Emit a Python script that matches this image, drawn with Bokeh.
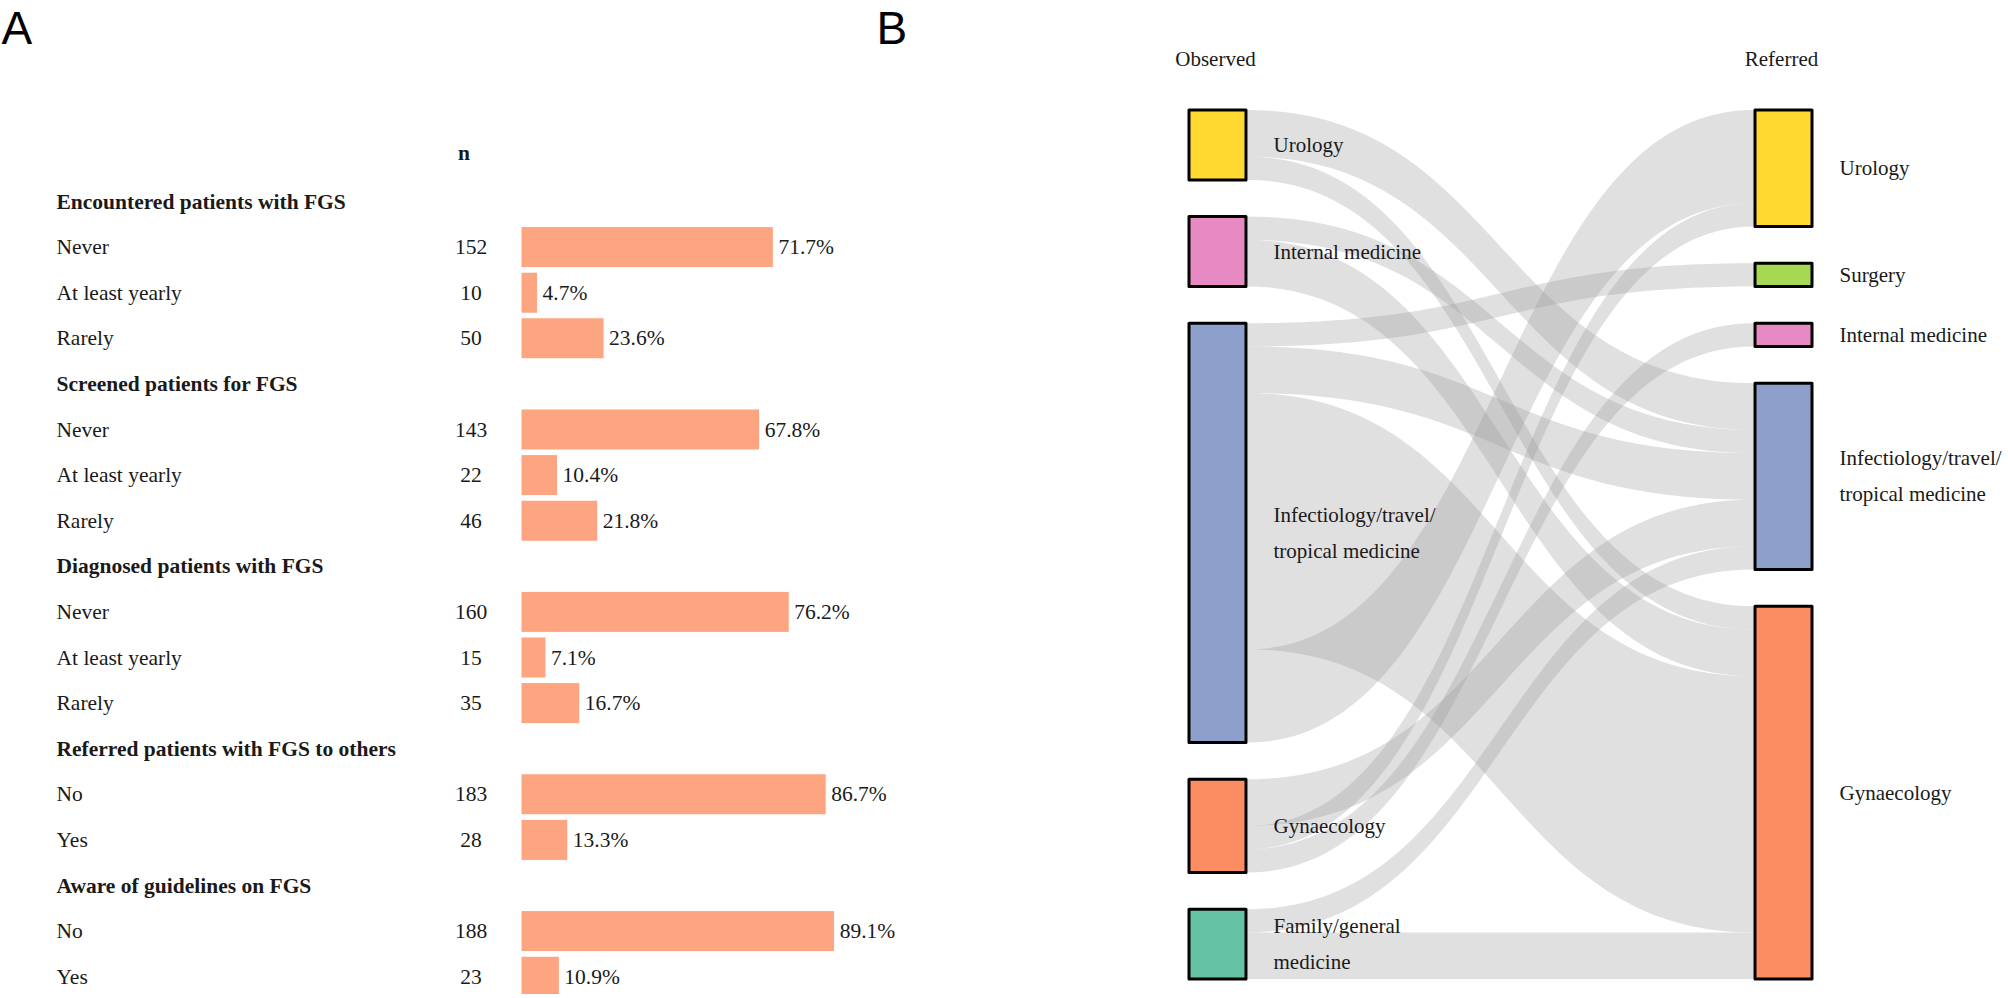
import numpy as np
from bokeh.plotting import figure
from bokeh.layouts import row
from bokeh.models import Range1d
from bokeh.core.properties import value
from bokeh.embed import file_html
from bokeh.resources import INLINE

# ---------------- Panel A data ----------------
groups = ["Encountered patients with FGS", "Screened patients for FGS",
          "Diagnosed patients with FGS", "Referred patients with FGS to others",
          "Aware of guidelines on FGS"]
answers = [["Never", "At least yearly", "Rarely"],
           ["Never", "At least yearly", "Rarely"],
           ["Never", "At least yearly", "Rarely"],
           ["No", "Yes"],
           ["No", "Yes"]]
counts = [[152, 10, 50], [143, 22, 46], [160, 15, 35], [183, 28], [188, 23]]
percents = [[71.7, 4.7, 23.6], [67.8, 10.4, 21.8], [76.2, 7.1, 16.7], [86.7, 13.3], [89.1, 10.9]]

# ---------------- Panel B data ----------------
observed_nodes = ["Urology", "Internal medicine", "Infectiology/travel/\ntropical medicine",
                  "Gynaecology", "Family/general\nmedicine"]
referred_nodes = ["Urology", "Surgery", "Internal medicine",
                  "Infectiology/travel/\ntropical medicine", "Gynaecology"]
INF = "Infectiology/travel/\ntropical medicine"
flow_from = ["Urology", "Urology", "Internal medicine", "Internal medicine",
             INF, INF, INF, INF,
             "Gynaecology", "Gynaecology", "Gynaecology",
             "Family/general\nmedicine", "Family/general\nmedicine"]
flow_to = [INF, "Gynaecology", INF, "Gynaecology",
           "Surgery", INF, "Gynaecology", "Urology",
           INF, "Urology", "Internal medicine",
           INF, "Gynaecology"]
flow_n = [2, 1, 1, 2, 1, 2, 11, 4, 2, 1, 1, 1, 2]
node_colors = {"Urology": "#FFD92F", "Surgery": "#A6D854", "Internal medicine": "#E78AC3",
               INF: "#8DA0CB", "Gynaecology": "#FC8D62", "Family/general\nmedicine": "#66C2A5"}

SERIF = value("Liberation Serif, Times New Roman, DejaVu Serif, serif")
FS_A = "21.5px"
FS_B = "21px"
TXT = "#1a1a1a"

W1, W2, H = 1000, 1004, 994

# ---------------- Panel A ----------------
PX_PER_PCT = 3.52
X0 = 520.5
ROW0, ROW_H = 201.0, 45.6


def lx(px):
    return (px - X0) / PX_PER_PCT


def ly(py):
    return (py - ROW0) / ROW_H


p1 = figure(width=W1, height=H, x_range=Range1d(lx(0), lx(W1)), y_range=Range1d(ly(H), ly(0)),
            output_backend="svg", toolbar_location=None, min_border=0,
            x_axis_location=None, y_axis_location=None)
p1.grid.visible = False
p1.outline_line_color = None

hdr_y, hdr_t = [], []
it_y, it_t, it_n, it_p = [], [], [], []
r = 0
for g, ans, cn, pc in zip(groups, answers, counts, percents):
    hdr_y.append(r)
    hdr_t.append(g)
    r += 1
    for a, c, v in zip(ans, cn, pc):
        it_y.append(r)
        it_t.append(a)
        it_n.append(str(c))
        it_p.append(v)
        r += 1

p1.hbar(y=it_y, left=0, right=it_p, height=0.9, fill_color="#FC8D62", fill_alpha=0.8,
        line_color="white", line_width=1)
p1.text(x=[lx(56)] * len(hdr_y), y=hdr_y, text=hdr_t, text_font=SERIF, text_font_size=FS_A,
        text_font_style="bold", text_baseline="middle", text_color=TXT)
p1.text(x=[lx(56)] * len(it_y), y=it_y, text=it_t, text_font=SERIF, text_font_size=FS_A,
        text_baseline="middle", text_color=TXT)
p1.text(x=[lx(470.5)] * len(it_y), y=it_y, text=it_n, text_font=SERIF, text_font_size=FS_A,
        text_baseline="middle", text_align="center", text_color=TXT)
p1.text(x=[v + 5 / PX_PER_PCT for v in it_p], y=it_y, text=[f"{v}%" for v in it_p],
        text_font=SERIF, text_font_size=FS_A, text_baseline="middle", text_color=TXT)
p1.text(x=[lx(463.5)], y=[-1.06], text=["n"], text_font=SERIF, text_font_size=FS_A,
        text_font_style="bold", text_baseline="middle", text_align="center", text_color=TXT)
p1.text(x=[lx(1), lx(876)], y=[ly(27), ly(27)], text=["A", "B"],
        text_font=value("Liberation Sans, Arial, sans-serif"),
        text_font_size="46px", text_baseline="middle", text_color="black")

# ---------------- Panel B ----------------
UNIT, TOP, GAP = 23.3, 109.5, 1.575


def ry(py):
    return (py - TOP) / UNIT


p2 = figure(width=W2, height=H, x_range=Range1d(0, W2), y_range=Range1d(ry(H), ry(0)),
            output_backend="svg", toolbar_location=None, min_border=0,
            x_axis_location=None, y_axis_location=None)
p2.grid.visible = False
p2.outline_line_color = None

out_tot = {n: 0 for n in observed_nodes}
in_tot = {n: 0 for n in referred_nodes}
for a, b, v in zip(flow_from, flow_to, flow_n):
    out_tot[a] += v
    in_tot[b] += v

left_top, right_top = {}, {}
y = 0.0
for n in observed_nodes:
    left_top[n] = y
    y += out_tot[n] + GAP
y = 0.0
for n in referred_nodes:
    right_top[n] = y
    y += in_tot[n] + GAP

LX0, LX1 = 188.5, 245.5
RX0, RX1 = 754.5, 811.5
FX0, FX1 = 247.0, 753.0

# outgoing stacking (list order), incoming stacking (source order)
lcur = dict(left_top)
starts = []
for a, v in zip(flow_from, flow_n):
    starts.append(lcur[a])
    lcur[a] += v
order = sorted(range(len(flow_n)), key=lambda i: (observed_nodes.index(flow_from[i]), i))
rcur = dict(right_top)
ends = [0.0] * len(flow_n)
for i in order:
    ends[i] = rcur[flow_to[i]]
    rcur[flow_to[i]] += flow_n[i]

s = np.linspace(0, 1, 80)
xm = (FX0 + FX1) / 2
bx = (1 - s) ** 3 * FX0 + 3 * (1 - s) ** 2 * s * xm + 3 * (1 - s) * s ** 2 * xm + s ** 3 * FX1
by = 3 * (1 - s) * s ** 2 + s ** 3
xs, ys = [], []
for i in range(len(flow_n)):
    y0, y1, v = starts[i], ends[i], flow_n[i]
    top = y0 + (y1 - y0) * by
    bot = (y0 + v) + (y1 - y0) * by
    xs.append(list(bx) + list(bx[::-1]))
    ys.append(list(top) + list(bot[::-1]))
p2.patches(xs, ys, fill_color="#999999", fill_alpha=0.3, line_color=None)

p2.quad(left=[LX0] * len(observed_nodes), right=[LX1] * len(observed_nodes),
        top=[left_top[n] for n in observed_nodes],
        bottom=[left_top[n] + out_tot[n] for n in observed_nodes],
        fill_color=[node_colors[n] for n in observed_nodes], line_color="black",
        line_width=3, line_join="round")
p2.quad(left=[RX0] * len(referred_nodes), right=[RX1] * len(referred_nodes),
        top=[right_top[n] for n in referred_nodes],
        bottom=[right_top[n] + in_tot[n] for n in referred_nodes],
        fill_color=[node_colors[n] for n in referred_nodes], line_color="black",
        line_width=3, line_join="round")

p2.text(x=[273] * len(observed_nodes), y=[left_top[n] + out_tot[n] / 2 for n in observed_nodes],
        text=observed_nodes, text_font=SERIF, text_font_size=FS_B, text_baseline="middle",
        text_line_height=1.5, text_color=TXT)
p2.text(x=[839] * len(referred_nodes), y=[right_top[n] + in_tot[n] / 2 for n in referred_nodes],
        text=referred_nodes, text_font=SERIF, text_font_size=FS_B, text_baseline="middle",
        text_line_height=1.5, text_color=TXT)
p2.text(x=[215, 781], y=[ry(58), ry(58)], text=["Observed", "Referred"], text_font=SERIF,
        text_font_size=FS_B, text_baseline="middle", text_align="center", text_color=TXT)

layout = row(p1, p2)
open("out.html", "w").write(file_html(layout, INLINE))
